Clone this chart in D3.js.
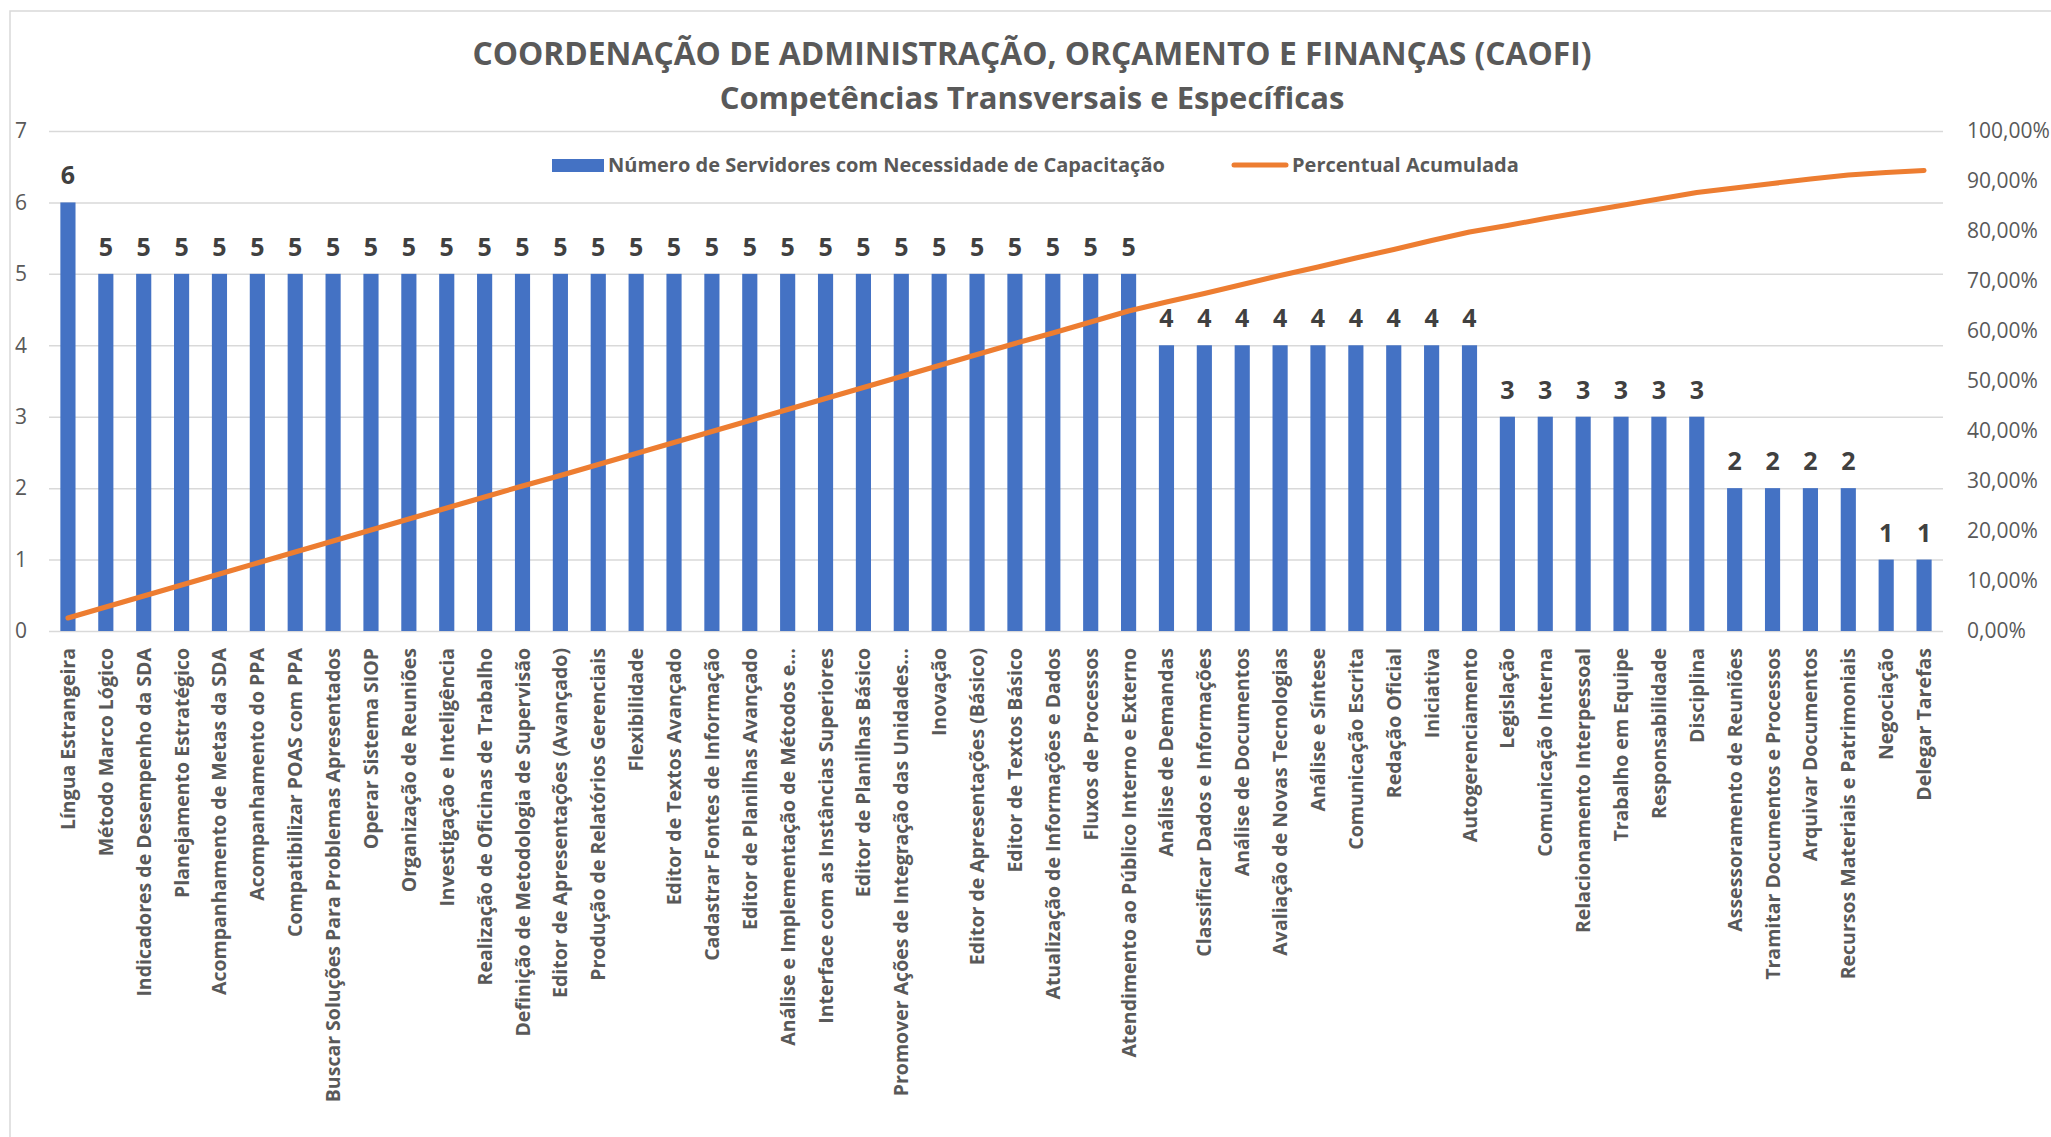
<!DOCTYPE html>
<html>
<head>
<meta charset="utf-8">
<script src="https://cdn.jsdelivr.net/npm/d3@7"></script>
<style>
  body { margin: 0; background: #fff; }
  svg { display: block; font-family: "Open Sans", sans-serif; }
  .grid line { stroke: #d9d9d9; stroke-width: 1.5; }
  .tick text { fill: #595959; }
</style>
</head>
<body>
<div id="chart"></div>
<script>
// Categories (already sorted like the Pareto in the sheet)
const categorias = [
  "Língua Estrangeira", "Método Marco Lógico", "Indicadores de Desempenho da SDA",
  "Planejamento Estratégico", "Acompanhamento de Metas da SDA", "Acompanhamento do PPA",
  "Compatibilizar POAS com PPA", "Buscar Soluções Para Problemas Apresentados",
  "Operar Sistema SIOP", "Organização de Reuniões", "Investigação e Inteligência",
  "Realização de Oficinas de Trabalho", "Definição de Metodologia de Supervisão",
  "Editor de Apresentações (Avançado)", "Produção de Relatórios Gerenciais", "Flexibilidade",
  "Editor de Textos Avançado", "Cadastrar Fontes de Informação", "Editor de Planilhas Avançado",
  "Análise e Implementação de Métodos e…", "Interface com as Instâncias Superiores",
  "Editor de Planilhas Básico", "Promover Ações de Integração das Unidades…", "Inovação",
  "Editor de Apresentações (Básico)", "Editor de Textos Básico",
  "Atualização de Informações e Dados", "Fluxos de Processos",
  "Atendimento ao Público Interno e Externo", "Análise de Demandas",
  "Classificar Dados e Informações", "Análise de Documentos", "Avaliação de Novas Tecnologias",
  "Análise e Síntese", "Comunicação Escrita", "Redação Oficial", "Iniciativa",
  "Autogerenciamento", "Legislação", "Comunicação Interna", "Relacionamento Interpessoal",
  "Trabalho em Equipe", "Responsabilidade", "Disciplina", "Assessoramento de Reuniões",
  "Tramitar Documentos e Processos", "Arquivar Documentos",
  "Recursos Materiais e Patrimoniais", "Negociação", "Delegar Tarefas"
];

// Número de Servidores com Necessidade de Capacitação
const servidores = [
  6, 5, 5, 5, 5, 5, 5, 5, 5, 5,
  5, 5, 5, 5, 5, 5, 5, 5, 5, 5,
  5, 5, 5, 5, 5, 5, 5, 5, 5, 4,
  4, 4, 4, 4, 4, 4, 4, 4, 3, 3,
  3, 3, 3, 3, 2, 2, 2, 2, 1, 1
];

// Percentual Acumulada
const percentual = [
  2.6, 4.8, 7.0, 9.2, 11.4, 13.6, 15.8, 18.0, 20.2, 22.4,
  24.6, 26.8, 29.0, 31.1, 33.3, 35.5, 37.7, 39.9, 42.1, 44.3,
  46.5, 48.7, 50.9, 53.1, 55.3, 57.5, 59.6, 61.8, 64.0, 65.8,
  67.5, 69.3, 71.1, 72.8, 74.6, 76.3, 78.1, 79.8, 81.1, 82.5,
  83.8, 85.1, 86.4, 87.7, 88.6, 89.5, 90.4, 91.2, 91.7, 92.1
];

const yTicks = [0, 1, 2, 3, 4, 5, 6, 7];
const pctTicks = [0, 10, 20, 30, 40, 50, 60, 70, 80, 90, 100];

const titulo1 = "COORDENAÇÃO DE ADMINISTRAÇÃO, ORÇAMENTO E FINANÇAS (CAOFI)";
const titulo2 = "Competências Transversais e Específicas";
const legBarras = "Número de Servidores com Necessidade de Capacitação";
const legLinha = "Percentual Acumulada";

const width = 2051,
    height = 1137,
    margin = ({ top: 131, right: 108, bottom: 506, left: 49 });

const svg = d3.select("#chart")
    .append("svg")
    .attr("width", width)
    .attr("height", height)
    .attr("viewBox", [0, 0, width, height]);

// chart frame (only left + top visible in the screenshot)
svg.append("rect")
    .attr("x", 10).attr("y", 11)
    .attr("width", width + 50).attr("height", height + 50)
    .attr("fill", "none")
    .attr("stroke", "#d9d9d9")
    .attr("stroke-width", 1.5);

let x = d3.scaleBand()
    .domain(categorias)
    .range([margin.left, width - margin.right])
    .paddingInner(0.6)
    .paddingOuter(0.3);

let y = d3.scaleLinear()
    .domain([0, 7])
    .range([height - margin.bottom, margin.top]);

let yPct = d3.scaleLinear()
    .domain([0, 100])
    .range([height - margin.bottom, margin.top]);

// left axis + gridlines
svg.append("g")
    .attr("class", "grid")
    .attr("transform", `translate(${margin.left},0)`)
    .call(d3.axisLeft(y).tickValues(yTicks).tickFormat(d3.format("d"))
        .tickSize(-(width - margin.left - margin.right)).tickSizeOuter(0).tickPadding(22))
    .call(g => g.select(".domain").remove())
    .call(g => g.selectAll("text").attr("font-size", 21).attr("font-family", "Open Sans"));

// right axis
svg.append("g")
    .attr("transform", `translate(${width - margin.right},0)`)
    .call(d3.axisRight(yPct).tickValues(pctTicks).tickSize(0).tickPadding(24)
        .tickFormat(d => d.toFixed(2).replace(".", ",") + "%"))
    .call(g => g.select(".domain").remove())
    .call(g => g.selectAll("text").attr("font-size", 21).attr("font-family", "Open Sans"));

// category axis
svg.append("g")
    .attr("transform", `translate(0,${height - margin.bottom})`)
    .call(d3.axisBottom(x).tickSize(0).tickSizeOuter(0))
    .call(g => g.select(".domain").remove())
    .call(g => g.selectAll("text")
        .attr("transform", "rotate(-90)")
        .attr("text-anchor", "end")
        .attr("x", -17)
        .attr("y", 0)
        .attr("dy", "0.36em")
        .attr("font-size", 19.5)
        .attr("font-weight", "bold")
        .attr("font-family", "Open Sans"));

const dados = categorias.map((c, i) => ({ c: c, v: servidores[i], p: percentual[i] }));

// bars
svg.append("g")
    .selectAll("rect")
    .data(dados)
    .join("rect")
    .attr("x", d => x(d.c))
    .attr("y", d => y(d.v))
    .attr("width", x.bandwidth())
    .attr("height", d => y(0) - y(d.v))
    .attr("fill", "#4472c4");

// data labels
svg.append("g")
    .selectAll("text")
    .data(dados)
    .join("text")
    .attr("x", d => x(d.c) + x.bandwidth() / 2)
    .attr("y", d => y(d.v) - 18)
    .attr("text-anchor", "middle")
    .attr("font-size", 25)
    .attr("font-weight", "bold")
    .attr("fill", "#404040")
    .text(d => d.v);

// cumulative line
let line = d3.line()
    .x(d => x(d.c) + x.bandwidth() / 2)
    .y(d => yPct(d.p));

svg.append("path")
    .datum(dados)
    .attr("d", line)
    .attr("fill", "none")
    .attr("stroke", "#ed7d31")
    .attr("stroke-width", 5)
    .attr("stroke-linecap", "round")
    .attr("stroke-linejoin", "round");

// titles
svg.append("text")
    .attr("x", 1032).attr("y", 65)
    .attr("text-anchor", "middle")
    .attr("font-size", 31.8)
    .attr("font-weight", "bold")
    .attr("fill", "#595959")
    .text(titulo1);

svg.append("text")
    .attr("x", 1032).attr("y", 109)
    .attr("text-anchor", "middle")
    .attr("font-size", 31)
    .attr("font-weight", "bold")
    .attr("fill", "#595959")
    .text(titulo2);

// legend
const leg = svg.append("g").attr("font-size", 20).attr("font-weight", "bold").attr("fill", "#595959");
leg.append("rect")
    .attr("x", 552).attr("y", 159)
    .attr("width", 52).attr("height", 13)
    .attr("fill", "#4472c4");
leg.append("text")
    .attr("x", 608).attr("y", 172)
    .text(legBarras);
leg.append("line")
    .attr("x1", 1234).attr("x2", 1286)
    .attr("y1", 165).attr("y2", 165)
    .attr("stroke", "#ed7d31")
    .attr("stroke-width", 5)
    .attr("stroke-linecap", "round");
leg.append("text")
    .attr("x", 1292).attr("y", 172)
    .text(legLinha);
</script>
</body>
</html>
